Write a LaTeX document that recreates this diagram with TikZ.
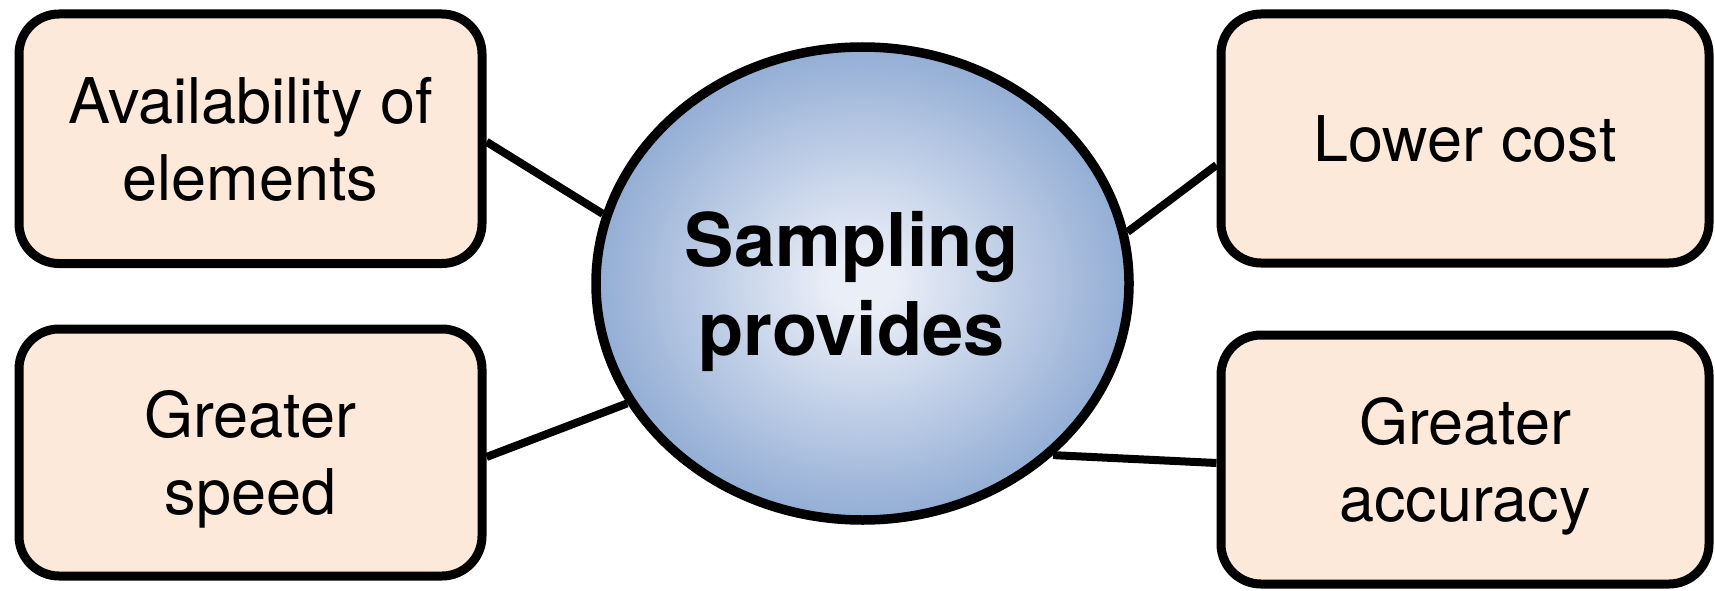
\documentclass[tikz,border=0pt]{standalone}
\usepackage{fontspec}
\setmainfont{TeX Gyre Heros}
\usetikzlibrary{shapes.geometric,backgrounds}

\definecolor{boxfill}{RGB}{253,233,217}
\definecolor{hubin}{RGB}{234,238,247}
\definecolor{hubout}{RGB}{143,170,211}

% soft glow in the middle of the central ellipse
\pgfdeclareradialshading{hubglow}{\pgfpoint{0bp}{0bp}}{%
  color(0bp)=(hubin); color(3bp)=(hubin);
  color(26bp)=(hubout); color(50bp)=(hubout)}

\begin{document}
\begin{tikzpicture}[x=1pt,y=1pt,
  benefit/.style={draw=black, line width=9pt, fill=boxfill,
    rounded corners=40pt, inner sep=0pt, align=center,
    font=\fontsize{63}{77}\selectfont, text depth=0pt},
  link/.style={line width=8pt}]

\useasboundingbox (0,0) rectangle (1715,-591);

% central idea
\node[ellipse, draw=black, line width=9.5pt, shade, shading=hubglow,
      minimum width=533pt, minimum height=473pt, inner sep=0pt]
  (hub) at (862.5,-283.5) {};
\node[align=center, font=\fontsize{74}{89}\selectfont\bfseries,
      inner sep=0pt, text depth=0pt]
  (hubtext) at ([xshift=-11pt]hub.center) {Sampling\\provides};

% the four benefits
\node[benefit, minimum width=463pt, minimum height=249.5pt]
  (avail) at (250.5,-138.75) {Availability of\\elements};
\node[benefit, minimum width=463pt, minimum height=247pt, text depth=-8pt]
  (speed) at (250.5,-452.5) {Greater\\speed};
\node[benefit, minimum width=488pt, minimum height=249pt]
  (cost) at (1465,-138.5) {Lower cost};
\node[benefit, minimum width=488pt, minimum height=249pt, text depth=-13pt]
  (accuracy) at (1465,-459.5) {Greater\\accuracy};

% connectors, kept behind the shapes
\begin{scope}[on background layer]
  \draw[link] ([yshift=-3pt]avail.east) -- (hub.165.6);
  \draw[link] ([yshift=-4.5pt]speed.east) -- (hub.207);
  \draw[link] (hub.11.4) -- ([yshift=-26.5pt]cost.west);
  \draw[link] (hub.-42.1) -- ([yshift=-3.5pt]accuracy.west);
\end{scope}
\end{tikzpicture}
\end{document}
